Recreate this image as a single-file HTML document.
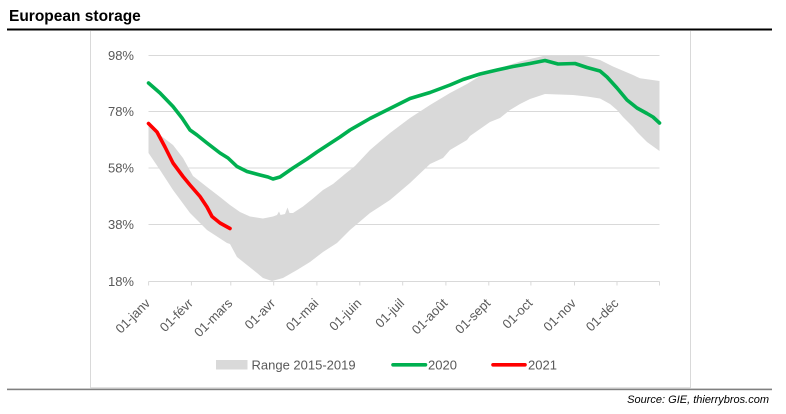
<!DOCTYPE html>
<html>
<head>
<meta charset="utf-8">
<style>
html,body{margin:0;padding:0;background:#fff;}
svg{display:block;}
</style>
</head>
<body>
<svg width="786" height="414" viewBox="0 0 786 414" xmlns="http://www.w3.org/2000/svg" font-family="Liberation Sans, sans-serif">
  <rect width="786" height="414" fill="#fff"/>
  <!-- title -->
  <text x="9" y="21" font-size="15.5" font-weight="bold" fill="#000">European storage</text>
  <rect x="7" y="28.5" width="765" height="2" fill="#000"/>
  <!-- frame -->
  <line x1="90.5" y1="31" x2="90.5" y2="388" stroke="#d9d9d9" stroke-width="1"/>
  <line x1="690.5" y1="31" x2="690.5" y2="388" stroke="#d9d9d9" stroke-width="1"/>
  <line x1="90.5" y1="387.8" x2="690.5" y2="387.8" stroke="#d9d9d9" stroke-width="1"/>
  <rect x="7" y="388.6" width="765" height="1.6" fill="#808080"/>

  <!-- gridlines -->
  <g stroke="#d9d9d9" stroke-width="1">
    <line x1="148.5" y1="55.5" x2="659.5" y2="55.5"/>
    <line x1="148.5" y1="111.5" x2="659.5" y2="111.5"/>
    <line x1="148.5" y1="168" x2="659.5" y2="168"/>
    <line x1="148.5" y1="224.5" x2="659.5" y2="224.5"/>
  </g>

  <!-- band -->
  <polygon fill="#d9d9d9" points="
148.5,125 160,135 173,145 183,158 193,176 207,187 220,197 230,205 240,212 250,216.5 263,218.5 273,216.5 277,215 279,211.5 280.5,215 285,214 287.5,207.5 289.5,213 293,213 303,206.5 313,198.5 323,190 333,184 345,174 355,166 370,150 390,133 410,118 430,105 450,93 467,84 480,76 500,68 520,61.5 543,56 577,55 587,56.5 600,60 613,66.5 633,75 640,78.3 659.5,81
659.5,151 647,142 637,132 633,127 623,117 617,110 610,104 600,98.5 587,96.5 573,95 545,94 530,99 520,104 510,110 500,118 490,122 470,136 467,140 450,150 443,158 430,164 410,183 390,200 370,213 350,230 337,243 323,252 310,262 297,270 283,278 272,281 263,278 257,273 247,265 237,257 230,244 227,243 207,230 190,213 173,190 160,170 148.5,153"/>

  <!-- x axis -->
  <g stroke="#d9d9d9" stroke-width="1">
    <line x1="148.5" y1="281.5" x2="659.5" y2="281.5"/>
    <line x1="148.6" y1="281.5" x2="148.6" y2="285.5"/>
    <line x1="191.4" y1="281.5" x2="191.4" y2="285.5"/>
    <line x1="230.8" y1="281.5" x2="230.8" y2="285.5"/>
    <line x1="273.7" y1="281.5" x2="273.7" y2="285.5"/>
    <line x1="316.9" y1="281.5" x2="316.9" y2="285.5"/>
    <line x1="359.8" y1="281.5" x2="359.8" y2="285.5"/>
    <line x1="402.7" y1="281.5" x2="402.7" y2="285.5"/>
    <line x1="445.9" y1="281.5" x2="445.9" y2="285.5"/>
    <line x1="488.8" y1="281.5" x2="488.8" y2="285.5"/>
    <line x1="530.9" y1="281.5" x2="530.9" y2="285.5"/>
    <line x1="574.5" y1="281.5" x2="574.5" y2="285.5"/>
    <line x1="617" y1="281.5" x2="617" y2="285.5"/>
    <line x1="659.5" y1="281.5" x2="659.5" y2="285.5"/>
  </g>

  <!-- y labels -->
  <g font-size="13" fill="#595959" text-anchor="end">
    <text x="134" y="60">98%</text>
    <text x="134" y="116">78%</text>
    <text x="134" y="172.5">58%</text>
    <text x="134" y="229">38%</text>
    <text x="134" y="286">18%</text>
  </g>

  <!-- x labels -->
  <g font-size="13" fill="#595959" text-anchor="end">
    <text transform="translate(151,304) rotate(-45)">01-janv</text>
    <text transform="translate(193.8,304) rotate(-45)">01-févr</text>
    <text transform="translate(233.2,304) rotate(-45)">01-mars</text>
    <text transform="translate(276.1,304) rotate(-45)">01-avr</text>
    <text transform="translate(319.3,304) rotate(-45)">01-mai</text>
    <text transform="translate(362.2,304) rotate(-45)">01-juin</text>
    <text transform="translate(405.1,304) rotate(-45)">01-juil</text>
    <text transform="translate(448.3,304) rotate(-45)">01-août</text>
    <text transform="translate(491.2,304) rotate(-45)">01-sept</text>
    <text transform="translate(533.3,304) rotate(-45)">01-oct</text>
    <text transform="translate(576.9,304) rotate(-45)">01-nov</text>
    <text transform="translate(619.4,304) rotate(-45)">01-déc</text>
  </g>

  <!-- 2020 green -->
  <polyline fill="none" stroke="#00b050" stroke-width="3.6" stroke-linejoin="round" stroke-linecap="round" points="
148.5,83 160,93 173,106.5 182,118 190,130 197,135 207,143 220,153 228,158 237,166.5 247,171.5 260,175 268,177 273,179 280,177 293,168 307,159 317,152 330,143.5 340,137 350,130 370,118.5 390,108.5 410,98.5 430,92.5 450,85 463,79.5 480,74 497,70 513,66.5 530,63.5 545,60.5 558,64 575,63.5 587,67.5 600,71 607,77 617,88 627,100 637,108 647,113.5 653,117 659.5,123"/>

  <!-- 2021 red -->
  <polyline fill="none" stroke="#ff0000" stroke-width="3.6" stroke-linejoin="round" stroke-linecap="round" points="
148.5,123.5 157,132 165,147 173,163 183,176.5 190,185 200,196.5 207,207 212,216.5 220,223 230,228.5"/>

  <!-- legend -->
  <rect x="216" y="360" width="31.5" height="9.5" fill="#d9d9d9"/>
  <text x="251.5" y="369.5" font-size="13" fill="#595959">Range 2015-2019</text>
  <line x1="393" y1="364.8" x2="425.5" y2="364.8" stroke="#00b050" stroke-width="3.6" stroke-linecap="round"/>
  <text x="428" y="369.5" font-size="13" fill="#595959">2020</text>
  <line x1="493" y1="364.8" x2="525" y2="364.8" stroke="#ff0000" stroke-width="3.6" stroke-linecap="round"/>
  <text x="528" y="369.5" font-size="13" fill="#595959">2021</text>

  <!-- source -->
  <text x="769" y="403" font-size="11" font-style="italic" fill="#000" text-anchor="end">Source: GIE, thierrybros.com</text>
</svg>
</body>
</html>
